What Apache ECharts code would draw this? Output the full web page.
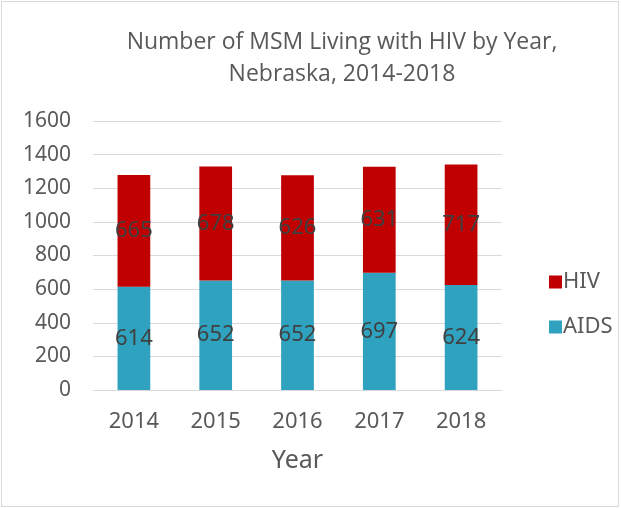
<!DOCTYPE html>
<html><head><meta charset="utf-8">
<script src="https://cdn.jsdelivr.net/npm/echarts@6/dist/echarts.min.js"></script>
<style>html,body{margin:0;padding:0;background:#fff}
#c{position:absolute;left:0;top:0;width:621px;height:508px}
#b{position:absolute;left:1px;top:1px;width:618px;height:506px;border:1px solid #d9d9d9;box-sizing:border-box;pointer-events:none}</style>
</head><body><div id="c"></div><div id="b"></div>
<script>
const years = ['2014','2015','2016','2017','2018'];
const aids = [614, 652, 652, 697, 624];
const hiv = [665, 678, 626, 631, 717];
const yTicks = [0,200,400,600,800,1000,1200,1400,1600];
const chart = echarts.init(document.getElementById('c'));
const lab = {show:true, position:'inside', color:'#404040', fontSize:22, fontFamily:'Noto Sans'};
chart.setOption({
  animation:false,
  title:{text:'Number of MSM Living with HIV by Year,\nNebraska, 2014-2018', left:337, top:21, textAlign:'center',
    textStyle:{color:'#595959', fontSize:23, fontWeight:'normal', fontFamily:'Open Sans', lineHeight:32}},
  legend:{orient:'vertical', left:544, top:266, itemWidth:13, itemHeight:13, itemGap:23, icon:'rect',
    textStyle:{color:'#595959', fontSize:22, fontFamily:'Noto Sans', padding:[0,0,0,-4]},
    data:['HIV','AIDS']},
  grid:{left:93, right:119, top:121, bottom:118, containLabel:false},
  xAxis:{type:'category', data:years, name:'Year', nameLocation:'middle', nameGap:58,
    nameTextStyle:{color:'#595959', fontSize:25, fontFamily:'Noto Sans'},
    axisLine:{show:true, lineStyle:{color:'#d9d9d9', width:1}}, axisTick:{show:false},
    axisLabel:{color:'#595959', fontSize:22, fontFamily:'Noto Sans', margin:21}},
  yAxis:{type:'value', min:0, max:1600, interval:200,
    axisLine:{show:false}, axisTick:{show:false},
    splitLine:{lineStyle:{color:'#d9d9d9', width:1}},
    axisLabel:{color:'#595959', fontSize:21, fontFamily:'Noto Sans', margin:22,
      formatter:v => yTicks.includes(v) ? String(v) : ''}},
  series:[
    {name:'AIDS', type:'bar', stack:'t', data:aids, barWidth:'40%', itemStyle:{color:'#2ea2bf'}, label:lab},
    {name:'HIV', type:'bar', stack:'t', data:hiv, barWidth:'40%', itemStyle:{color:'#c00000'}, label:lab}
  ]
});
</script></body></html>
